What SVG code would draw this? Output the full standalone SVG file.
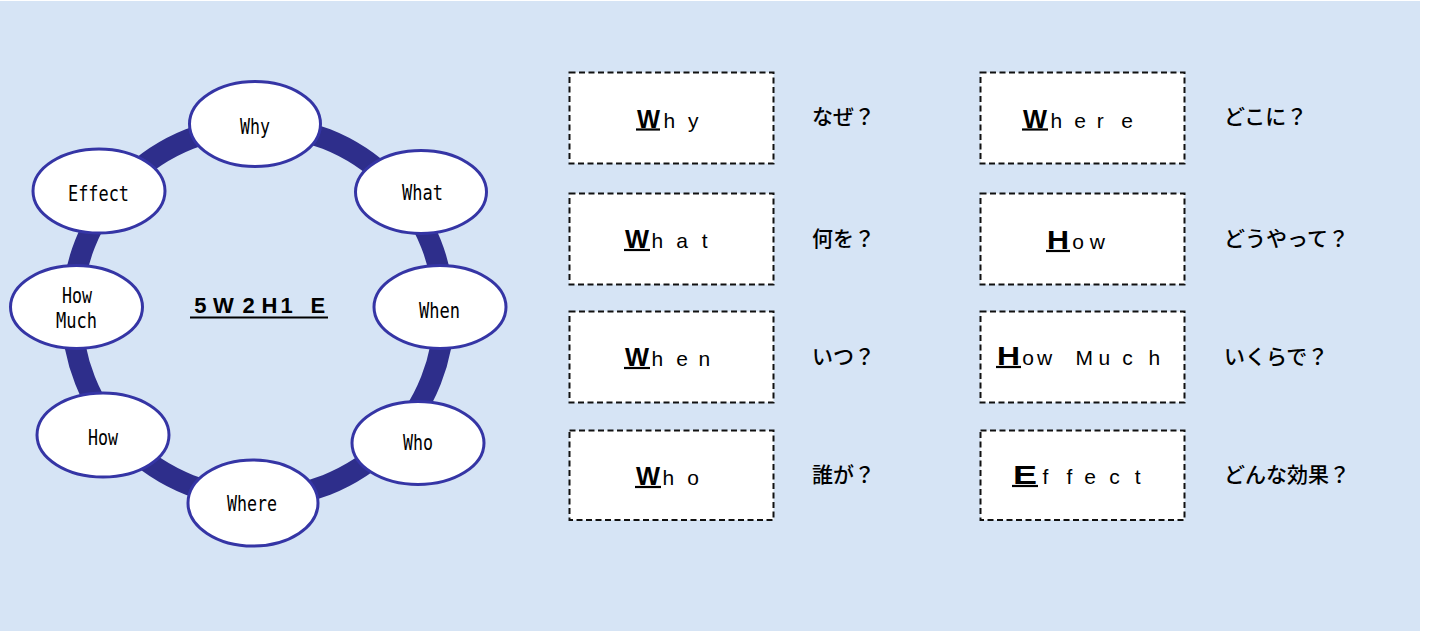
<svg xmlns="http://www.w3.org/2000/svg" width="1439" height="631" viewBox="0 0 1439 631">
<style>
.bg{fill:#D6E4F5}
.ring{fill:none;stroke:#2E2E8B;stroke-width:21}
.node ellipse{fill:#fff;stroke:#3535A5;stroke-width:3}
.nl{font-family:"DejaVu Sans Mono","Liberation Sans",monospace;font-size:22px;fill:#000}
.box{fill:#fff;stroke:#111;stroke-width:2;stroke-dasharray:6 3.5}
.ini{font-family:"Liberation Sans",Arial,sans-serif;font-size:25px;font-weight:bold;fill:#000}
.rest{font-family:"Liberation Sans",Arial,sans-serif;font-size:21px;fill:#000}
.ul{stroke:#000;stroke-width:2.2}
.jp{font-family:"Noto Sans CJK JP","Noto Sans CJK SC",sans-serif;font-size:21px;font-weight:500;fill:#000}
.title{font-family:"Liberation Sans",Arial,sans-serif;font-size:22px;font-weight:bold;fill:#000}
</style>
<rect class="bg" x="0" y="1" width="1420" height="630"/>

<g id="connectors">
<circle class="ring" cx="258" cy="312" r="186"/>
</g>

<g id="node-why" class="node"><ellipse cx="255" cy="124" rx="65.5" ry="42.5"/><text class="nl" x="240" y="134" textLength="30" lengthAdjust="spacingAndGlyphs">Why</text></g>
<g id="node-what" class="node"><ellipse cx="421" cy="192" rx="65.5" ry="41.5"/><text class="nl" x="402" y="200" textLength="41" lengthAdjust="spacingAndGlyphs">What</text></g>
<g id="node-when" class="node"><ellipse cx="440" cy="307" rx="66" ry="41.5"/><text class="nl" x="419" y="318" textLength="41" lengthAdjust="spacingAndGlyphs">When</text></g>
<g id="node-who" class="node"><ellipse cx="418" cy="443" rx="66" ry="41.5"/><text class="nl" x="403" y="450" textLength="30" lengthAdjust="spacingAndGlyphs">Who</text></g>
<g id="node-where" class="node"><ellipse cx="253" cy="503" rx="65" ry="43"/><text class="nl" x="227" y="511" textLength="50" lengthAdjust="spacingAndGlyphs">Where</text></g>
<g id="node-how" class="node"><ellipse cx="103" cy="435" rx="66" ry="42"/><text class="nl" x="88" y="445" textLength="30" lengthAdjust="spacingAndGlyphs">How</text></g>
<g id="node-howmuch" class="node"><ellipse cx="76.5" cy="307" rx="66" ry="41.5"/><text class="nl" x="62" y="302.5" textLength="30" lengthAdjust="spacingAndGlyphs">How</text><text class="nl" x="56" y="327.5" textLength="41" lengthAdjust="spacingAndGlyphs">Much</text></g>
<g id="node-effect" class="node"><ellipse cx="99" cy="191" rx="66" ry="42"/><text class="nl" x="68" y="200.5" textLength="61" lengthAdjust="spacingAndGlyphs">Effect</text></g>

<g id="title">
<text class="title" x="194.2 212.9 242.4 261.4 280.6 310.4" y="312.5">5W2H1E</text>
<line class="ul" x1="190" y1="317.5" x2="328" y2="317.5" stroke-width="2.5"/>
</g>

<g id="box-why">
<rect class="box" x="569.5" y="72.5" width="204" height="91"/>
<text class="ini" x="637" y="127.5" textLength="23" lengthAdjust="spacingAndGlyphs">W</text>
<text class="rest" x="663.6 688" y="127.5">hy</text>
<line class="ul" x1="636" y1="129.5" x2="660" y2="129.5"/>
<text class="jp" x="812" y="124">なぜ？</text>
</g>
<g id="box-what">
<rect class="box" x="569.5" y="193.5" width="204" height="91"/>
<text class="ini" x="625" y="248" textLength="24" lengthAdjust="spacingAndGlyphs">W</text>
<text class="rest" x="651.6 676.2 701.8" y="248">hat</text>
<line class="ul" x1="624" y1="250" x2="650" y2="250"/>
<text class="jp" x="812" y="246">何を？</text>
</g>
<g id="box-when">
<rect class="box" x="569.5" y="311.5" width="204" height="91"/>
<text class="ini" x="625" y="366" textLength="24" lengthAdjust="spacingAndGlyphs">W</text>
<text class="rest" x="651.6 676.2 698.6" y="366">hen</text>
<line class="ul" x1="624" y1="368" x2="650" y2="368"/>
<text class="jp" x="812" y="364">いつ？</text>
</g>
<g id="box-who">
<rect class="box" x="569.5" y="430.5" width="204" height="89.5"/>
<text class="ini" x="636" y="485" textLength="24" lengthAdjust="spacingAndGlyphs">W</text>
<text class="rest" x="662.6 687.2" y="485">ho</text>
<line class="ul" x1="635" y1="487" x2="661" y2="487"/>
<text class="jp" x="812" y="482">誰が？</text>
</g>

<g id="box-where">
<rect class="box" x="980.5" y="72.5" width="204" height="91"/>
<text class="ini" x="1023" y="127.5" textLength="24" lengthAdjust="spacingAndGlyphs">W</text>
<text class="rest" x="1050.6 1074.2 1096.7 1121.2" y="127.5">here</text>
<line class="ul" x1="1022" y1="129.5" x2="1048" y2="129.5"/>
<text class="jp" x="1224" y="124">どこに？</text>
</g>
<g id="box-how">
<rect class="box" x="980.5" y="193.5" width="204" height="91"/>
<text class="ini" x="1047" y="249" textLength="22" lengthAdjust="spacingAndGlyphs">H</text>
<text class="rest" x="1072.2 1089.8" y="249">ow</text>
<line class="ul" x1="1046" y1="251" x2="1070" y2="251"/>
<text class="jp" x="1224" y="246">どうやって？</text>
</g>
<g id="box-howmuch">
<rect class="box" x="980.5" y="311.5" width="204" height="91"/>
<text class="ini" x="997" y="365" textLength="23" lengthAdjust="spacingAndGlyphs">H</text>
<text class="rest" x="1022.2 1037 1065 1075.5 1098.6 1122.2 1148.6" y="365">ow Much</text>
<line class="ul" x1="996" y1="367" x2="1021" y2="367"/>
<text class="jp" x="1224" y="364">いくらで？</text>
</g>
<g id="box-effect">
<rect class="box" x="980.5" y="430.5" width="204" height="89.5"/>
<text class="ini" x="1013" y="484" textLength="24" lengthAdjust="spacingAndGlyphs">E</text>
<text class="rest" x="1042.5 1066.5 1084.2 1109.2 1134.8" y="484">ffect</text>
<line class="ul" x1="1012" y1="486" x2="1038" y2="486"/>
<text class="jp" x="1224" y="482">どんな効果？</text>
</g>
</svg>
